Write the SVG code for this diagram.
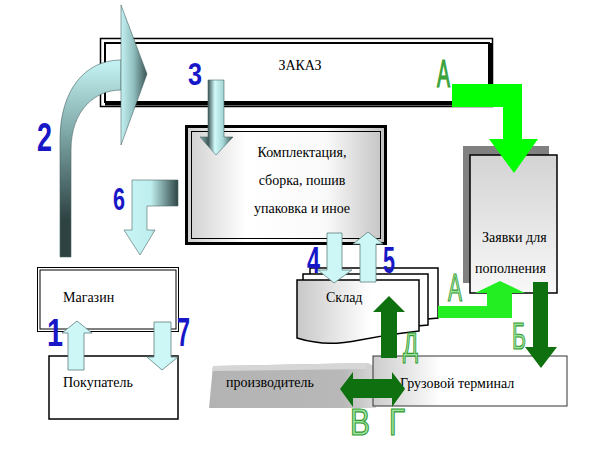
<svg xmlns="http://www.w3.org/2000/svg" width="596" height="453" viewBox="0 0 596 453">
<defs>
<style>
.t{font-family:"Liberation Serif","Times New Roman",serif;font-size:14px;fill:#000}
.num{font-family:"Liberation Sans",Arial,sans-serif;font-weight:bold;fill:#1717c8}
.gl{font-family:"Liberation Sans",Arial,sans-serif;fill:#9fe29f;stroke:#2f9a2f;stroke-width:1.2}
.cy{fill:#cdf7f7;stroke:#5f7d7d;stroke-width:0.8}
.dg{fill:#0f700f}
.lg{fill:#22ee22}
.bx{fill:#fff;stroke:#000;stroke-width:1.5}
</style>
<linearGradient id="g2s" gradientUnits="userSpaceOnUse" x1="0" y1="60" x2="0" y2="220">
<stop offset="0" stop-color="#c6f4f4"/><stop offset="0.45" stop-color="#7fa8a8"/><stop offset="1" stop-color="#2e4242"/>
</linearGradient>
<linearGradient id="g2h" gradientUnits="userSpaceOnUse" x1="121" y1="0" x2="147" y2="0">
<stop offset="0" stop-color="#c4f2f2"/><stop offset="0.5" stop-color="#8fbcbc"/><stop offset="1" stop-color="#3a5454"/>
</linearGradient>
<linearGradient id="g3" gradientUnits="userSpaceOnUse" x1="200" y1="0" x2="233" y2="0">
<stop offset="0" stop-color="#8fb3b3"/><stop offset="0.25" stop-color="#3f5959"/><stop offset="0.45" stop-color="#d2fafa"/><stop offset="0.7" stop-color="#a5d6d6"/><stop offset="1" stop-color="#3a5252"/>
</linearGradient>
<linearGradient id="g6" gradientUnits="userSpaceOnUse" x1="124" y1="0" x2="178" y2="0">
<stop offset="0" stop-color="#c8f5f5"/><stop offset="0.5" stop-color="#bfeeee"/><stop offset="1" stop-color="#2f4545"/>
</linearGradient>
<linearGradient id="gk" x1="0" y1="0" x2="1" y2="0">
<stop offset="0" stop-color="#cfcfcf"/><stop offset="0.3" stop-color="#ffffff"/><stop offset="0.7" stop-color="#fafafa"/><stop offset="1" stop-color="#c2c2c2"/>
</linearGradient>
<linearGradient id="gz" x1="0" y1="0" x2="0" y2="1">
<stop offset="0" stop-color="#d3d3d3"/><stop offset="1" stop-color="#f8f8f8"/>
</linearGradient>
<linearGradient id="gl" x1="0" y1="0" x2="1" y2="0">
<stop offset="0" stop-color="#c8c8c8"/><stop offset="0.6" stop-color="#ffffff"/><stop offset="1" stop-color="#ffffff"/>
</linearGradient>
<linearGradient id="gt" x1="0" y1="0" x2="1" y2="0">
<stop offset="0" stop-color="#cccccc"/><stop offset="0.35" stop-color="#ffffff"/><stop offset="1" stop-color="#ffffff"/>
</linearGradient>
<linearGradient id="gp" x1="0" y1="0" x2="1" y2="0">
<stop offset="0" stop-color="#b3b3b3"/><stop offset="0.8" stop-color="#b8b8b8"/><stop offset="1" stop-color="#d8d8d8"/>
</linearGradient>
</defs>
<rect width="596" height="453" fill="#fff"/>

<g id="zakaz">
<rect x="100.5" y="38.5" width="392" height="68" fill="#fff" stroke="#000" stroke-width="1.5"/>
<rect x="105" y="43" width="384" height="59" fill="#fff" stroke="#000" stroke-width="2"/>
<path d="M105 103.5 H491 V43" fill="none" stroke="#000" stroke-width="4"/>
<text class="t" x="300" y="70" text-anchor="middle">ЗАКАЗ</text>
</g>

<g id="komplektaciya">
<rect x="186.5" y="126.5" width="199" height="117" fill="url(#gk)" stroke="#000" stroke-width="3"/>
<rect x="191.5" y="131.5" width="189" height="107" fill="none" stroke="#000" stroke-width="1"/>
<text class="t" x="302" y="157" text-anchor="middle">Комплектация,</text>
<text class="t" x="302" y="185" text-anchor="middle">сборка, пошив</text>
<text class="t" x="302" y="213" text-anchor="middle">упаковка и иное</text>
</g>

<g id="zayavki">
<rect x="463" y="146" width="86" height="137" fill="#808080"/>
<rect x="470" y="155" width="87" height="138" fill="url(#gz)" stroke="#000" stroke-width="1.5"/>
<text class="t" x="482" y="242">Заявки для</text>
<text class="t" x="475" y="273">пополнения</text>
</g>

<g id="magazin">
<rect x="37.5" y="267.5" width="141" height="64" fill="#fff" stroke="#000" stroke-width="1"/>
<rect x="40" y="270" width="136" height="59" fill="none" stroke="#000" stroke-width="1"/>
<text class="t" x="63" y="302">Магазин</text>
</g>

<g id="pokupatel">
<rect x="49" y="356" width="129" height="63" class="bx"/>
<text class="t" x="63" y="387">Покупатель</text>
</g>

<g id="sklad">
<path d="M310 268 H438 V318 L310 330 Z" class="bx"/>
<path d="M303 274 H428 V325 L303 336 Z" class="bx"/>
<path d="M297 280 H419 V331 C400 333 380 336 360 340 C345 343 330 345 315 342 C307 341 300 339 297 338 Z" fill="url(#gl)" stroke="#000" stroke-width="1.5"/>
<text class="t" x="326" y="302">Склад</text>
</g>

<g id="proizvoditel">
<path d="M213 366 L368 363 L376 367 V408 H209 Z" fill="url(#gp)"/>
<path d="M213 366 L368 363 L366 369 L212 371 Z" fill="#d6d6d6"/>
<text class="t" x="226" y="387">производитель</text>
</g>

<g id="terminal">
<rect x="373" y="356" width="194" height="50" fill="url(#gt)" stroke="#333" stroke-width="1"/>
<text class="t" x="400" y="388">Грузовой терминал</text>
</g>

<g id="connectors">
<path d="M60 257 L60 140 C60 90 85 60 121 60 L121 90 C95 90 71 110 71 150 L71 257 Z" fill="url(#g2s)" stroke="#4a6464" stroke-width="0.6"/>
<path d="M121 5 L147 74 L121 145 Z" fill="url(#g2h)" stroke="#4a6464" stroke-width="0.6"/>
<path d="M208 80 H224 V137 H233 L216 155 L200 137 H208 Z" fill="url(#g3)" stroke="#4a6464" stroke-width="0.6"/>
<path d="M132 180 H178 V206 H147 V230 H155 L140 255 L124 230 H132 Z" fill="url(#g6)" stroke="#4a6464" stroke-width="0.6"/>
<path d="M68 370 V333 H62 L77 321 L92 333 H84 V370 Z" class="cy"/>
<path d="M154 322 H171 V357 H178 L162 370 L147 357 H154 Z" class="cy"/>
<path d="M327 233 H342 V270 H352 L334 283 L318 270 H327 Z" class="cy"/>
<path d="M360 282 V244 H353 L368 232 L383 244 H376 V282 Z" class="cy"/>
<path d="M452 84 H522 V139 H538 L514 173 L489 139 H503 V107 H452 Z" fill="#00ff00"/>
<path d="M438 306 H487 V293 H475 L500 281 L525 293 H512 V318 H438 Z" class="lg"/>
<path d="M381 358 V312 H373 L389 296 L405 312 H397 V358 Z" class="dg"/>
<path d="M533 282 H548 V347 H557 L541 368 L525 347 H533 Z" class="dg"/>
<path d="M340 389 L353 372 V379 H392 V372 L405 389 L392 407 V398 H353 V407 Z" class="dg"/>
</g>

<g id="labels">
<text class="num" x="37" y="151" font-size="40" textLength="15" lengthAdjust="spacingAndGlyphs">2</text>
<text class="num" x="188" y="85" font-size="32" textLength="14" lengthAdjust="spacingAndGlyphs">3</text>
<text class="num" x="113" y="210" font-size="32" textLength="12" lengthAdjust="spacingAndGlyphs">6</text>
<text class="num" x="47" y="346" font-size="39" textLength="16" lengthAdjust="spacingAndGlyphs">1</text>
<text class="num" x="177" y="346" font-size="40" textLength="13" lengthAdjust="spacingAndGlyphs">7</text>
<text class="num" x="307" y="273" font-size="36" textLength="13" lengthAdjust="spacingAndGlyphs">4</text>
<text class="num" x="383" y="273" font-size="36" textLength="12" lengthAdjust="spacingAndGlyphs">5</text>
<text class="gl" x="437" y="87" font-size="38" textLength="13" lengthAdjust="spacingAndGlyphs" style="fill:#3fa83f">А</text>
<text class="gl" x="448" y="301" font-size="38" textLength="14" lengthAdjust="spacingAndGlyphs">А</text>
<text class="gl" x="512" y="349" font-size="37" textLength="14" lengthAdjust="spacingAndGlyphs">Б</text>
<text class="gl" x="403" y="356" font-size="34" textLength="15" lengthAdjust="spacingAndGlyphs">Д</text>
<text class="gl" x="350" y="435" font-size="37" textLength="20" lengthAdjust="spacingAndGlyphs">В</text>
<text class="gl" x="389" y="435" font-size="37" textLength="16" lengthAdjust="spacingAndGlyphs">Г</text>
</g>
</svg>
